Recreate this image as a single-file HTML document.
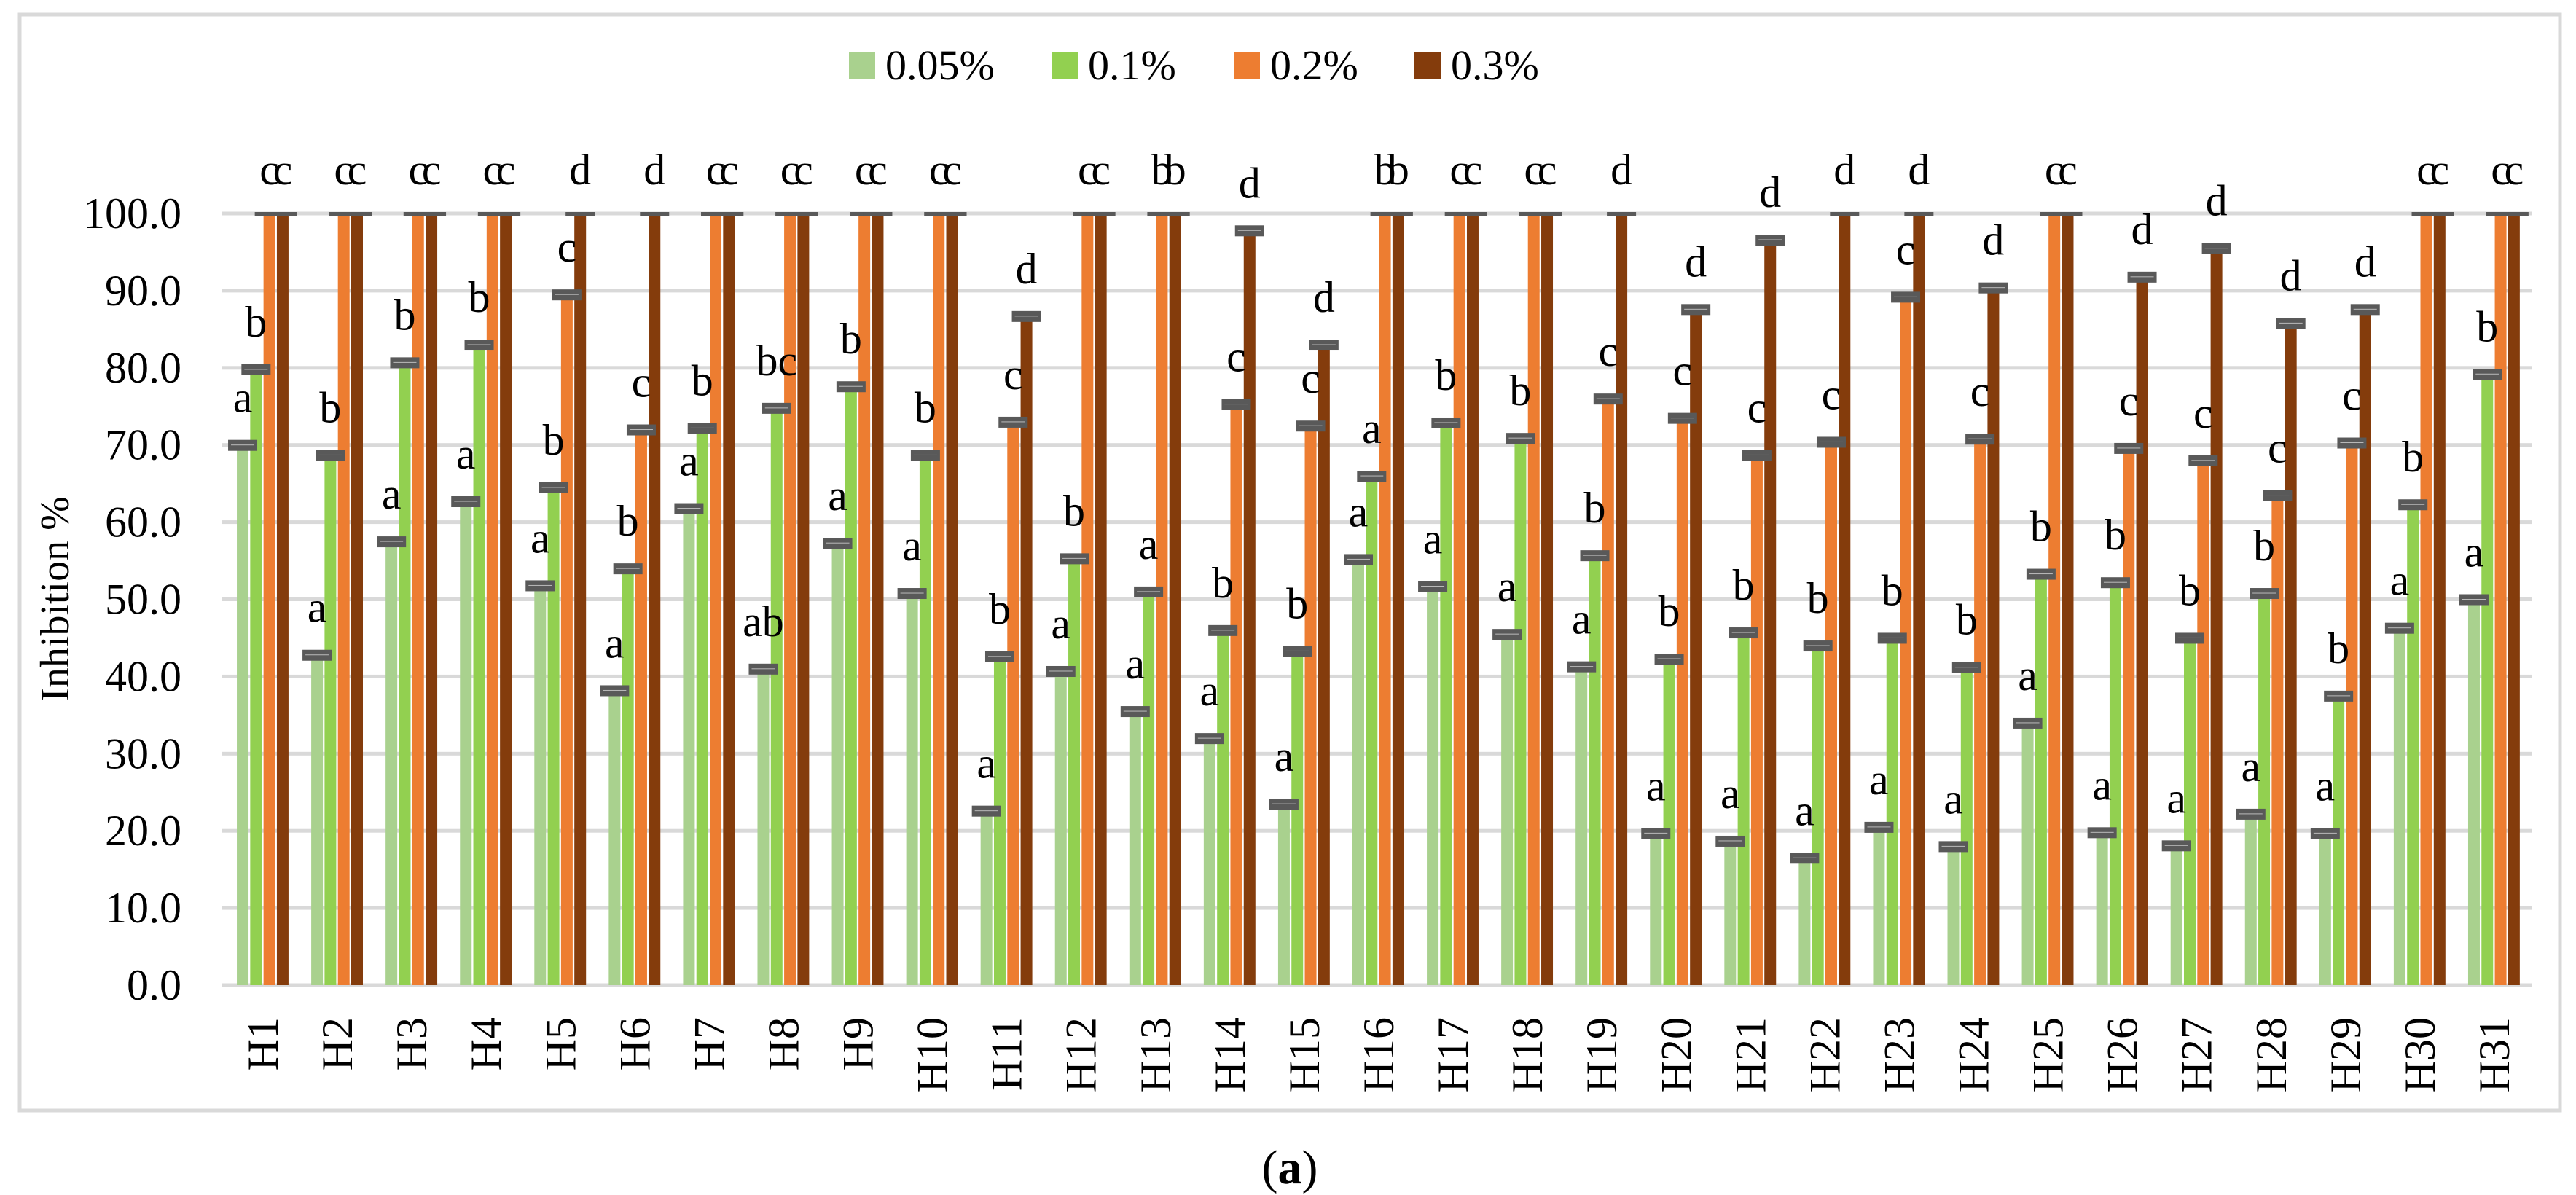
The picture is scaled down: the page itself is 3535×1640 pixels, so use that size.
<!DOCTYPE html>
<html><head><meta charset="utf-8"><style>
html,body{margin:0;padding:0;background:#fff;}
svg{display:block;font-family:"Liberation Serif",serif;}
</style></head><body>
<svg id="chart" width="3535" height="1640" viewBox="0 0 3535 1640" xmlns="http://www.w3.org/2000/svg">
<rect x="27" y="20" width="3486" height="1504" fill="#fff" stroke="#d9d9d9" stroke-width="5"/>
<g id="grid"></g><g id="bars"></g><g id="errs"></g><g id="letters"></g><g id="yticks"></g><g id="xticks"></g>
<text transform="translate(94,822) rotate(-90)" text-anchor="middle" font-size="56">Inhibition %</text>
<g id="legend"></g>
<text x="1770" y="1624" text-anchor="middle" font-size="66">(<tspan font-weight="bold">a</tspan>)</text>
</svg>
<script>
const categories=["H1","H2","H3","H4","H5","H6","H7","H8","H9","H10","H11","H12","H13","H14","H15","H16","H17","H18","H19","H20","H21","H22","H23","H24","H25","H26","H27","H28","H29","H30","H31"];
const seriesNames=["0.05%","0.1%","0.2%","0.3%"];
const s005=[70.0,42.8,57.5,62.7,51.8,38.2,61.8,41.0,57.3,50.8,22.6,40.7,35.5,32.0,23.5,55.2,51.7,45.5,41.3,19.7,18.7,16.5,20.5,18.0,34.0,19.8,18.1,22.2,19.7,46.3,50.0];
const s01=[79.8,68.7,80.7,83.0,64.5,54.0,72.2,74.8,77.6,68.7,42.6,55.3,51.0,46.0,43.3,66.0,72.9,70.9,55.7,42.3,45.7,44.0,45.0,41.2,53.3,52.2,45.0,50.8,37.5,62.3,79.2];
const s02=[100,100,100,100,89.5,72.0,100,100,100,100,73.0,100,100,75.3,72.5,100,100,100,76.0,73.5,68.7,70.4,89.2,70.8,100,69.6,68.0,63.5,70.3,100,100];
const s03=[100,100,100,100,100,100,100,100,100,100,86.7,100,100,97.8,83.0,100,100,100,100,87.6,96.6,100,100,90.4,100,91.8,95.5,85.8,87.6,100,100];
const l005=["a","a","a","a","a","a","a","ab","a","a","a","a","a","a","a","a","a","a","a","a","a","a","a","a","a","a","a","a","a","a","a"];
const l01=["b","b","b","b","b","b","b","bc","b","b","b","b","a","b","b","a","b","b","b","b","b","b","b","b","b","b","b","b","b","b","b"];
const l02=["c","c","c","c","c","c","c","c","c","c","c","c","b","c","c","b","c","c","c","c","c","c","c","c","c","c","c","c","c","c","c"];
const l03=["c","c","c","c","d","d","c","c","c","c","d","c","b","d","d","b","c","c","d","d","d","d","d","d","c","d","d","d","d","c","c"];
const yTicks=["0.0","10.0","20.0","30.0","40.0","50.0","60.0","70.0","80.0","90.0","100.0"];
const colors=["#a9d18e","#92d050","#ed7d31","#843c0c"];
const series=[s005,s01,s02,s03], letters=[l005,l01,l02,l03];
const NS="http://www.w3.org/2000/svg";
const X0=310,X1=3474,Y0=1352,Y100=293;
const band=(X1-X0)/categories.length;
function y(v){return Y0-(Y0-Y100)*v/100;}
function xc(i){return X0+band*(i+0.5);}
function bx(i,s){return xc(i)-36+s*18.3;}
function mk(tag,attrs,parent){const e=document.createElementNS(NS,tag);for(const k in attrs)e.setAttribute(k,attrs[k]);parent.appendChild(e);return e;}
const g=id=>document.getElementById(id);
yTicks.forEach((t,k)=>{const v=parseFloat(t);
 const l=mk('rect',{x:X0-6,y:y(v)-2.5,width:X1-X0+6,height:5,fill:'#d9d9d9'},g('grid'));
 
 
 const tx=mk('text',{x:249,y:y(v)+20,'text-anchor':'end','font-size':60},g('yticks'));tx.textContent=t;
 
 
});
categories.forEach((c,i)=>{
 series.forEach((arr,s)=>{
  const v=arr[i],x=bx(i,s);
  const r=mk('rect',{x:x,y:y(v),width:16,height:Y0-y(v),fill:colors[s]},g('bars'));
  
  
  const cx=x+8;
  let top;
  if(v>=100){mk('rect',{x:cx-20,y:y(v)-2,width:40,height:5,fill:'#595959'},g('errs'));top=y(v)-2;}
  else{mk('rect',{x:cx-20,y:y(v)-7,width:40,height:15,fill:'#595959'},g('errs'));
   mk('rect',{x:cx-16,y:y(v)-0.5,width:32,height:1,fill:'#bbb'},g('errs'));top=y(v)-7;}
  const lt=mk('text',{x:cx,y:top-38,'text-anchor':'middle','font-size':60},g('letters'));lt.textContent=letters[s][i];
  
  
 });
 const t=mk('text',{transform:`translate(${xc(i)+20},1396) rotate(-90)`,'text-anchor':'end','font-size':60},g('xticks'));t.textContent=c;
 
 
});
const lx=[1165,1443,1693,1941];
seriesNames.forEach((n,s)=>{
 const sq=mk('rect',{x:lx[s],y:72,width:36,height:36,fill:colors[s]},g('legend'));
 
 
 const t=mk('text',{x:lx[s]+50,y:109,'font-size':58},g('legend'));t.textContent=n;
 
 
});
</script>
</body></html>
